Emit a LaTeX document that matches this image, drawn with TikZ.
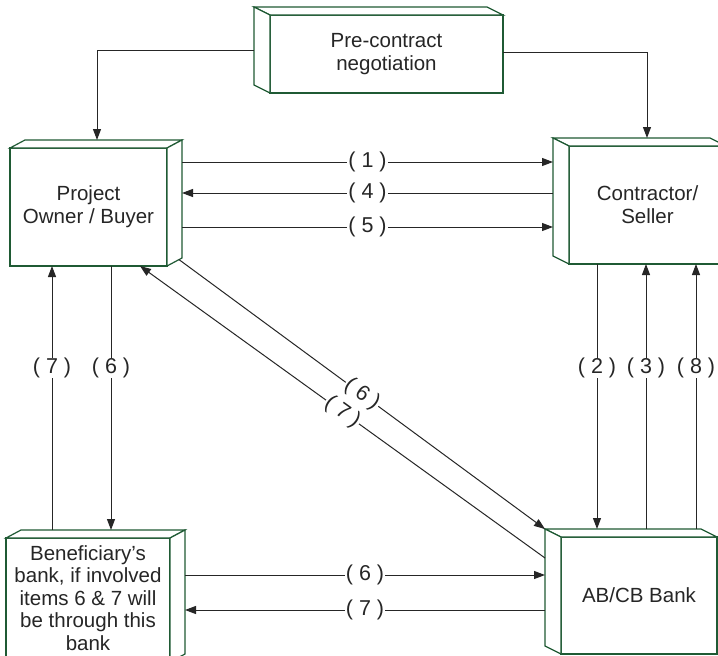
\documentclass[tikz,border=0pt]{standalone}
\usepackage{fontspec}
\setmainfont{Liberation Sans}
\usetikzlibrary{arrows.meta,calc}
\definecolor{boxgreen}{HTML}{1F5A34}
\definecolor{inkgray}{HTML}{262626}
\tikzset{
  block/.style={draw=boxgreen, line width=1.2pt, fill=white, rectangle,
    inner sep=0pt, outer sep=0pt, align=center, text=inkgray,
    font=\fontsize{20.5}{23}\selectfont},
  ghost/.style={rectangle, inner sep=0pt, outer sep=0pt},
  depth/.style={draw=boxgreen, line width=1.2pt, line join=miter, fill=white},
  link/.style={draw=inkgray, line width=1pt, -{Triangle[length=11pt,width=8pt]}},
  tag/.style={fill=white, inner xsep=1pt, inner ysep=0pt, text=inkgray,
    font=\fontsize{21.5}{23}\selectfont},
}
% box whose depth recedes to the upper left (front node #1, back outline #2)
\newcommand{\depthleft}[2]{%
  \filldraw[depth] (#1.north west) -- (#2.north west) -- (#2.north east) -- (#1.north east) -- cycle;
  \filldraw[depth] (#1.north west) -- (#2.north west) -- (#2.south west) -- (#1.south west) -- cycle;
}
% box whose depth recedes to the upper right
\newcommand{\depthright}[2]{%
  \filldraw[depth] (#1.north west) -- (#2.north west) -- (#2.north east) -- (#1.north east) -- cycle;
  \filldraw[depth] (#1.north east) -- (#2.north east) -- (#2.south east) -- (#1.south east) -- cycle;
}
\begin{document}
\begin{tikzpicture}[x=1pt,y=-1pt]
\clip (0,0) rectangle (718,656);
\fill[white] (0,0) rectangle (718,656);

% front faces
\node[block, minimum width=233pt, minimum height=78pt] (pre) at (386.5,54) {Pre-contract\\negotiation};
\node[block, minimum width=157pt, minimum height=118pt] (own) at (88.5,207) {Project\\Owner / Buyer};
\node[block, minimum width=157pt, minimum height=118pt] (con) at (647.5,205) {Contractor/\\Seller};
\node[block, minimum width=164pt, minimum height=124pt, font=\fontsize{20.5}{22.5}\selectfont] (ben) at (88,600) {Beneficiary's\\bank, if involved\\items 6 \& 7 will\\be through this\\bank\rule[-4pt]{0pt}{4pt}};
\node[block, minimum width=156pt, minimum height=117pt] (bank) at (639,595.5) {AB/CB Bank};

% back outlines
\node[ghost, minimum width=233pt, minimum height=78pt] (pre-b) at (370.5,46) {};
\node[ghost, minimum width=157pt, minimum height=118pt] (own-b) at (103.5,199) {};
\node[ghost, minimum width=157pt, minimum height=118pt] (con-b) at (631.5,197) {};
\node[ghost, minimum width=164pt, minimum height=124pt] (ben-b) at (103,592) {};
\node[ghost, minimum width=156pt, minimum height=117pt] (bank-b) at (623,587.5) {};

\depthleft{pre}{pre-b}
\depthleft{con}{con-b}
\depthleft{bank}{bank-b}
\depthright{own}{own-b}
\depthright{ben}{ben-b}

% negotiation feeds both parties
\draw[link] (pre-b.west |- 0,50) -| (own-b.north -| 97,0);
\draw[link] (pre.east |- 0,52) -| (con-b.north -| 647,0);

% owner <-> contractor
\draw[link] (own-b.east |- 0,162) -- node[tag]{( 1 )} (con-b.west |- 0,162);
\draw[link] (con-b.west |- 0,193) -- node[tag]{( 4 )} (own-b.east |- 0,193);
\draw[link] (own-b.east |- 0,227) -- node[tag]{( 5 )} (con-b.west |- 0,227);

% owner <-> beneficiary's bank
\draw[link] (ben-b.north -| 52,0) -- node[tag,pos=0.614]{( 7 )} (own.south -| 52,0);
\draw[link] (own.south -| 111,0) -- node[tag,pos=0.386]{( 6 )} (ben-b.north -| 111,0);

% contractor <-> AB/CB bank
\draw[link] (con.south -| 597,0) -- node[tag,pos=0.392]{( 2 )} (bank-b.north -| 597,0);
\draw[link] (bank-b.north -| 646,0) -- node[tag,pos=0.608]{( 3 )} (con.south -| 646,0);
\draw[link] (bank-b.north -| 696,0) -- node[tag,pos=0.608]{( 8 )} (con.south -| 696,0);

% beneficiary's bank <-> AB/CB bank
\draw[link] (ben-b.east |- 0,575) -- node[tag]{( 6 )} (bank-b.west |- 0,575);
\draw[link] (bank-b.west |- 0,610) -- node[tag]{( 7 )} (ben-b.east |- 0,610);

% owner <-> AB/CB bank (diagonal)
\coordinate (d6s) at ($(own.south east)!0.8!(own-b.south east)$);
\draw[link] (d6s) -- node[tag,sloped,pos=0.5]{( 6 )} (bank-b.north west);
\draw[link] (bank-b.west |- 0,558) -- node[tag,sloped,pos=0.5]{( 7 )} (own.south -| 140,0);
\end{tikzpicture}
\end{document}
